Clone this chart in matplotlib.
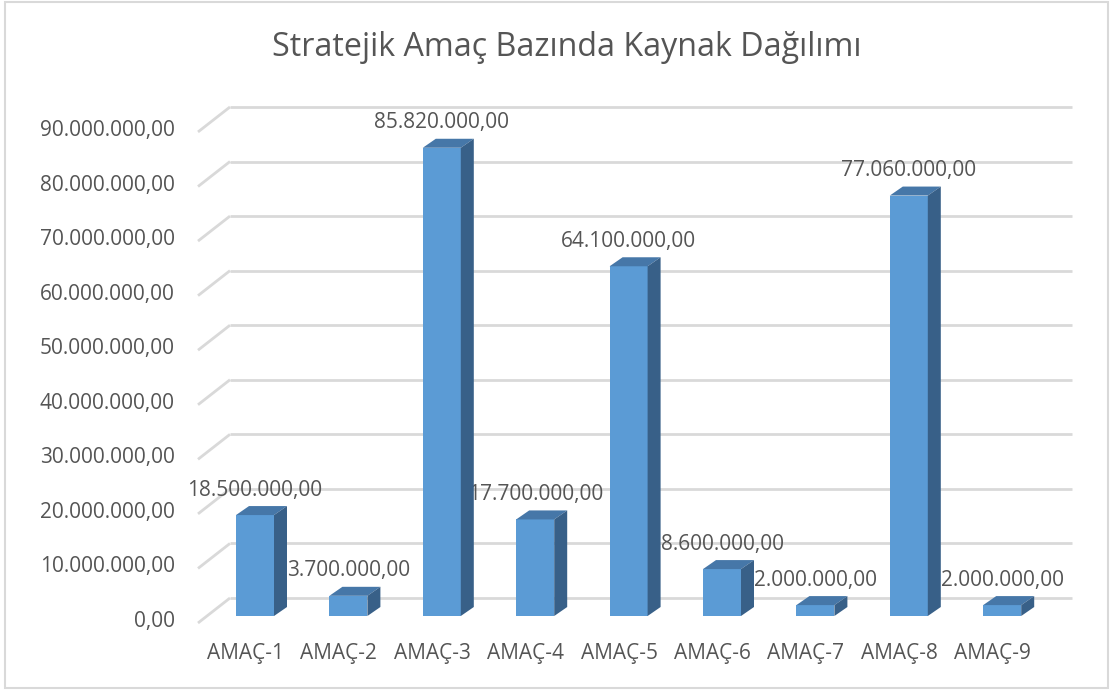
import numpy as np
import matplotlib
matplotlib.use('Agg')
import matplotlib.pyplot as plt
from matplotlib.patches import Polygon, Rectangle

#=========================================================================
# data
categories = ['AMAÇ-1', 'AMAÇ-2', 'AMAÇ-3', 'AMAÇ-4', 'AMAÇ-5',
              'AMAÇ-6', 'AMAÇ-7', 'AMAÇ-8', 'AMAÇ-9']
values = [18500000, 3700000, 85820000, 17700000, 64100000,
          8600000, 2000000, 77060000, 2000000]
yticks = [0, 10000000, 20000000, 30000000, 40000000,
          50000000, 60000000, 70000000, 80000000, 90000000]
title = 'Stratejik Amaç Bazında Kaynak Dağılımı'


def tr_fmt(v):
  s = '{:,.2f}'.format(v)
  return s.replace(',', 'X').replace('.', ',').replace('X', '.')

#=========================================================================
plt.rcParams['font.family'] = ['Open Sans', 'DejaVu Sans']
txtcolor = '#555555'
gridcolor = '#d9d9d9'
front = '#5b9bd5'
topc = '#4677a8'
sidec = '#386088'

W, H = 1111, 690
fig = plt.figure(figsize=(W / 100.0, H / 100.0), dpi=100)

# pixel geometry of the bar plane
X0, SX = 255.0, 93.4      # px of category 0, px per category
Y0, SY = 616.0, 5.456     # px of value 0, px per million
left_px, right_px, top_px = 190.0, 1075.0, 95.0

ax = fig.add_axes([left_px / W, 1 - Y0 / H,
                   (right_px - left_px) / W, (Y0 - top_px) / H])
ax.set_xlim((left_px - X0) / SX, (right_px - X0) / SX)
ax.set_ylim(0, (Y0 - top_px) / SY * 1e6)
ax.axis('off')


def ddx(px):
  return px / SX


def ddy(px):
  return px / SY * 1e6


def xpx(px):
  return (px - X0) / SX


# back wall gridlines with the diagonal to the front edge
for v in yticks:
  yb = v + ddy(18)
  ax.plot([xpx(230), xpx(1072)], [yb, yb], color=gridcolor, lw=2.0,
          zorder=0.5, clip_on=False, solid_capstyle='butt')
  ax.plot([xpx(198), xpx(230)], [v - ddy(7), yb], color=gridcolor, lw=2.0,
          zorder=0.5, clip_on=False, solid_capstyle='butt')
  ax.text(xpx(175), v - ddy(5.5), tr_fmt(v), ha='right', va='center',
          fontsize=15, color=txtcolor, clip_on=False)

# bars
x = np.arange(len(values))
w = 38.0 / SX
ox, oy = ddx(13), ddy(9)
ax.bar(x, values, width=w, color=front, zorder=3, linewidth=0)
for xi, h in zip(x, values):
  top = Polygon([(xi - w / 2, h), (xi + w / 2, h),
                 (xi + w / 2 + ox, h + oy), (xi - w / 2 + ox, h + oy)],
                closed=True, facecolor=topc, edgecolor='none', zorder=3)
  side = Polygon([(xi + w / 2, 0), (xi + w / 2, h),
                  (xi + w / 2 + ox, h + oy), (xi + w / 2 + ox, oy)],
                 closed=True, facecolor=sidec, edgecolor='none', zorder=3)
  ax.add_patch(top)
  ax.add_patch(side)
  ax.text(xi, h + oy + ddy(16), tr_fmt(h), ha='center', va='center',
          fontsize=15, color=txtcolor, zorder=1, clip_on=False)

# category labels
for xi, c in zip(x, categories):
  ax.text(xi - ddx(9.5), -ddy(37), c, ha='center', va='center',
          fontsize=15, color=txtcolor, clip_on=False)

fig.text(567.0 / W, 1 - 47.0 / H, title, ha='center', va='center',
         fontsize=23.2, color=txtcolor)

# chart border
fig.patches.append(Rectangle((5.0 / W, 2.0 / H), 1103.0 / W, 686.0 / H,
                             transform=fig.transFigure, fill=False,
                             edgecolor=gridcolor, lw=1.5))

fig.savefig('out.png', dpi=100, facecolor='white')
